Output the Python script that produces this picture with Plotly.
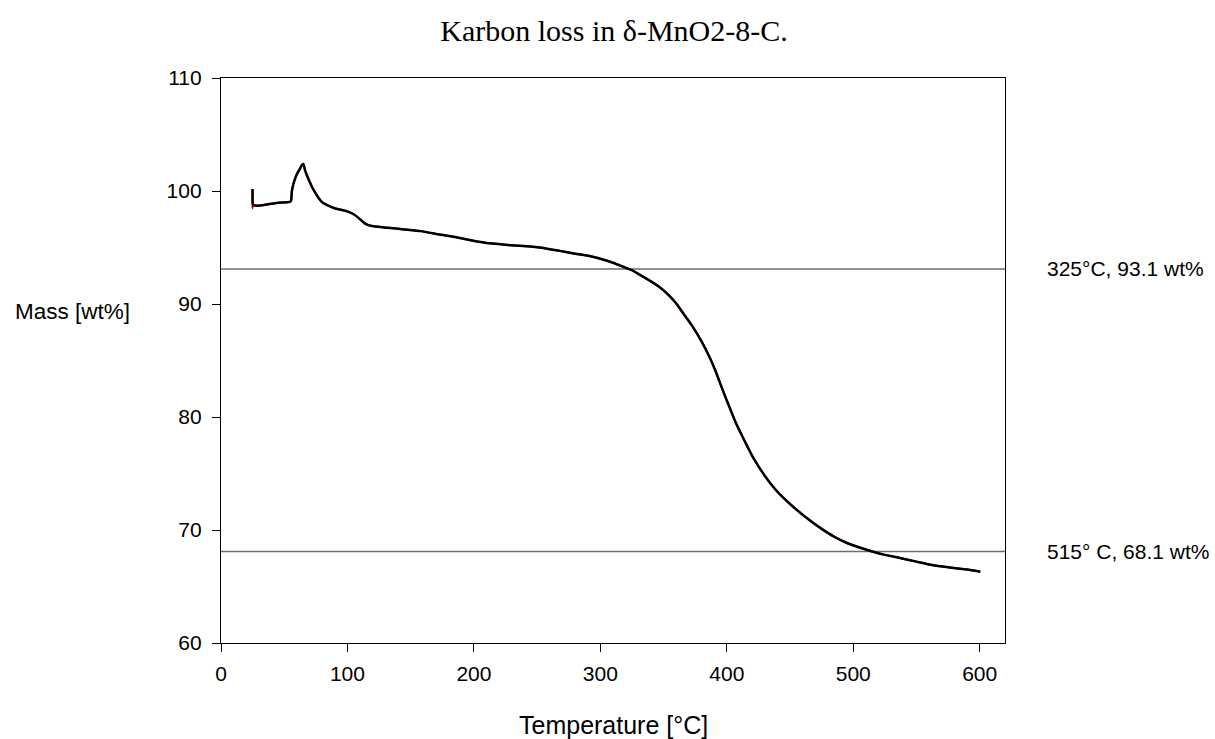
import plotly.graph_objects as go

# ---- data ----
temp_c = [25.0, 25.1, 25.5, 28.4, 35, 41.5, 48, 54.7, 55.5, 56, 57.2, 58.6, 60.5, 62.6, 64, 65.2,
          66.3, 67.9, 70, 71.8, 74.5, 77, 80, 84, 87, 92, 97.5, 102, 105.5, 110, 113, 116, 122,
          131.8, 145, 158, 173, 184, 197.5, 212.5, 230, 252, 267.8, 280, 291.5, 300, 310, 318,
          325, 331, 340, 346.7, 353, 359.9, 366, 373, 380, 386.2, 391, 396.7, 402, 407.3, 414,
          420.4, 430, 438.8, 450, 465, 475, 485, 495, 505, 515, 525, 536.1, 550, 562.4, 575,
          590, 600.5]
mass_wt = [100.18, 98.9, 98.76, 98.7, 98.78, 98.9, 98.98, 99.05, 99.2, 99.94, 100.6, 101.1, 101.6,
           102.0, 102.3, 102.38, 101.9, 101.4, 100.85, 100.4, 99.85, 99.4, 99.0, 98.75, 98.6,
           98.4, 98.28, 98.1, 97.9, 97.5, 97.2, 97.0, 96.85, 96.75, 96.6, 96.45, 96.15, 95.95,
           95.65, 95.37, 95.2, 95.0, 94.7, 94.45, 94.25, 94.0, 93.65, 93.3, 93.0, 92.6, 92.0,
           91.5, 90.9, 90.06, 89.1, 88.0, 86.7, 85.34, 84.1, 82.4, 80.9, 79.44, 77.9, 76.49,
           74.8, 73.54, 72.3, 70.9, 70.1, 69.4, 68.85, 68.45, 68.1, 67.8, 67.55, 67.2, 66.9,
           66.7, 66.5, 66.31]

# red (raw) trace start spike
red_start_t = [24.8, 24.8, 25.3]
red_start_m = [100.1, 98.45, 98.75]

ref_span_x = [0, 620]
ref_levels = [93.1, 68.1]
ref_labels = ["325°C, 93.1 wt%", "515° C, 68.1 wt%"]

x_ticks = [0, 100, 200, 300, 400, 500, 600]
y_ticks = [60, 70, 80, 90, 100, 110]

SANS = "Liberation Sans, Arial, sans-serif"
SERIF = "Liberation Serif, Times New Roman, serif"

FIG_W, FIG_H = 1215, 739

fig = go.Figure()

for lvl in ref_levels:
    fig.add_trace(go.Scatter(x=ref_span_x, y=[lvl, lvl], mode="lines",
                             line=dict(color="#6e6e6e", width=1.5),
                             hoverinfo="skip", showlegend=False, cliponaxis=True))

fig.add_trace(go.Scatter(x=red_start_t + temp_c[2:], y=red_start_m + mass_wt[2:], mode="lines",
                         line=dict(color="#e00000", width=2, shape="spline", smoothing=0.5),
                         showlegend=False))
fig.add_trace(go.Scatter(x=temp_c, y=mass_wt, mode="lines",
                         line=dict(color="black", width=2.5, shape="spline", smoothing=0.5),
                         showlegend=False))

for lvl, txt in zip(ref_levels, ref_labels):
    fig.add_annotation(x=1.051, y=lvl, xref="paper", yref="y", text=txt, showarrow=False,
                       xanchor="left", yanchor="middle",
                       font=dict(family=SANS, size=21, color="black"))

# axis titles as annotations
fig.add_annotation(x=0.5, y=-0.145, xref="paper", yref="paper", text="Temperature [°C]",
                   showarrow=False, xanchor="center", yanchor="middle",
                   font=dict(family=SANS, size=25, color="black"))
fig.add_annotation(x=-0.2648, y=0.586, xref="paper", yref="paper", text="Mass [wt%]",
                   showarrow=False, xanchor="left", yanchor="middle",
                   font=dict(family=SANS, size=22.5, color="black"))

fig.update_layout(
    width=FIG_W, height=FIG_H,
    margin=dict(l=221, r=210, t=78, b=96),
    paper_bgcolor="white", plot_bgcolor="white",
    title=dict(text="Karbon loss in δ-MnO2-8-C.", x=614 / FIG_W, xref="container", xanchor="center",
               y=1 - 30 / FIG_H, yref="container", yanchor="middle",
               font=dict(family=SERIF, size=30, color="black")),
    xaxis=dict(range=[0, 620], tickvals=x_ticks, ticks="outside", ticklen=8, tickwidth=1.3,
               tickcolor="black", showline=True, linecolor="black", linewidth=1.3, mirror=True,
               showgrid=False, zeroline=False, ticklabelstandoff=4,
               tickfont=dict(family=SANS, size=21, color="black")),
    yaxis=dict(range=[60, 110], tickvals=y_ticks, ticks="outside", ticklen=8, tickwidth=1.3,
               tickcolor="black", showline=True, linecolor="black", linewidth=1.3, mirror=True,
               showgrid=False, zeroline=False, ticklabelstandoff=6,
               tickfont=dict(family=SANS, size=21, color="black")),
)

fig.write_html("out.html", config={"displayModeBar": False},
               post_script="document.body.style.margin='0';document.body.style.overflow='hidden';")
